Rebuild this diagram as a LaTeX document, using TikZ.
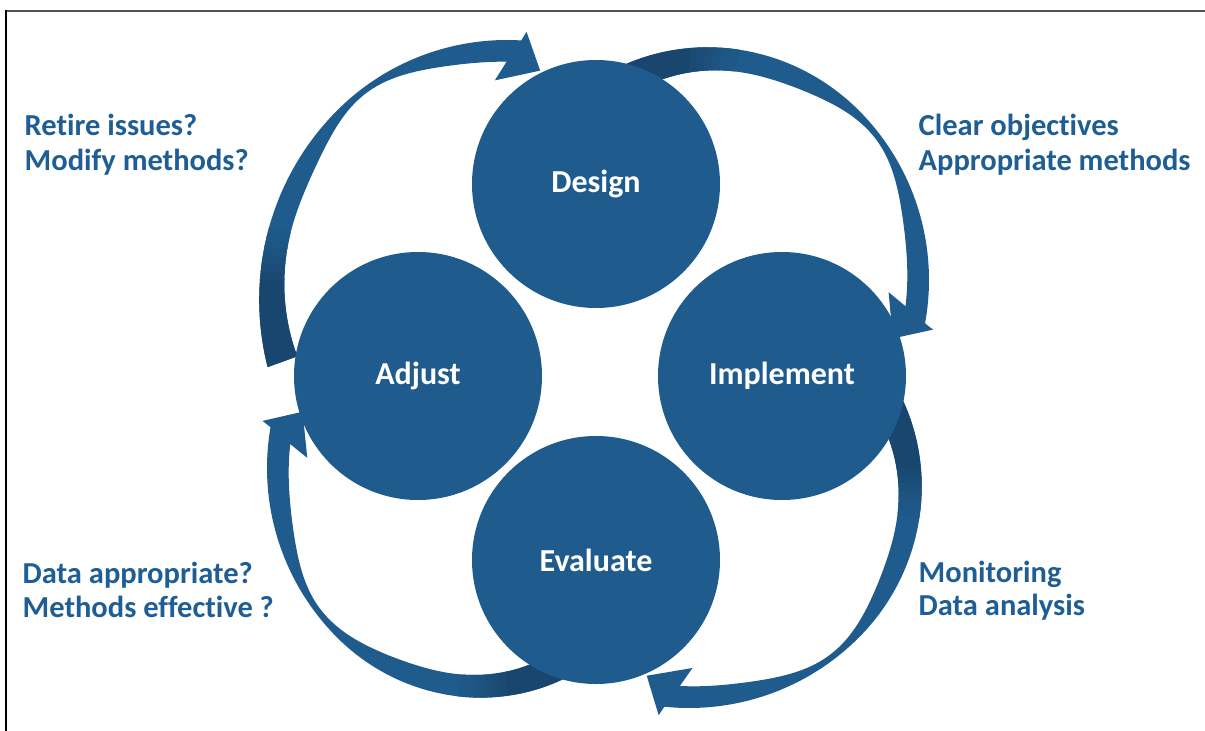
\documentclass[tikz,border=0pt]{standalone}
\usepackage{fontspec}
\setmainfont{Carlito}[Ligatures={NoCommon}]
\usetikzlibrary{calc}

\definecolor{discblue}{RGB}{31,91,140}
\definecolor{tailblue}{RGB}{25,70,110}
\definecolor{noteblue}{RGB}{31,94,148}

% outer radius of a loop band (bends in or out near the tail)
\pgfmathdeclarefunction{rout}{2}{\pgfmathparse{240-(#2)*min(#1,0)*min(#1,0)}}
% band width: wide tail, narrow twist, steady shaft
\pgfmathdeclarefunction{bandw}{1}{\pgfmathparse{22-16*exp(-((#1-8)/18.5)*((#1-8)/18.5))+0.006*min(#1+25,0)*min(#1+25,0)}}

% curved band arrow around the midpoint of two disc centres
% #1 from, #2 to, #3 outward direction, #4 tail bend, #5 head shift
\newcommand\loopband[5]{%
  \pgfmathsetmacro\headend{50.9+(#5)}%
  \pgfmathsetmacro\innerend{47.4+(#5)}%
  \begin{scope}[shift={($(#1)!0.5!(#2)$)}]
    \fill[discblue]
      plot[smooth,samples=70,domain=-65:\headend,variable=\t]
        ({rout(\t,#4)*cos(#3+\t)},{rout(\t,#4)*sin(#3+\t)})
      -- ({249*cos(#3+52+(#5))},{249*sin(#3+52+(#5))})
      -- ({212*cos(#3+56.5+(#5))},{212*sin(#3+56.5+(#5))})
      -- ({200*cos(#3+44+(#5))},{200*sin(#3+44+(#5))})
      -- plot[smooth,samples=70,domain=\innerend:-65,variable=\t]
        ({(rout(\t,#4)-bandw(\t))*cos(#3+\t)},{(rout(\t,#4)-bandw(\t))*sin(#3+\t)})
      -- cycle;
    \foreach \a/\b/\p in {-65/-44.6/100,-45/-42.6/85,-43/-40.6/70,-41/-38.6/55,-39/-36.6/40,-37/-34.6/25,-35/-32.6/12}{
      \fill[tailblue!\p!discblue]
        plot[smooth,samples=10,domain=\a:\b,variable=\t]
          ({rout(\t,#4)*cos(#3+\t)},{rout(\t,#4)*sin(#3+\t)})
        -- plot[smooth,samples=10,domain=\b:\a,variable=\t]
          ({(rout(\t,#4)-bandw(\t))*cos(#3+\t)},{(rout(\t,#4)-bandw(\t))*sin(#3+\t)})
        -- cycle;
    }
  \end{scope}}

\tikzset{
  disc/.style={circle, fill=discblue, minimum size=248pt, inner sep=0pt,
    text=white, font=\fontsize{32}{38}\selectfont\bfseries},
  note/.style={anchor=base west, inner sep=0pt, text=noteblue,
    font=\fontsize{30.5}{36}\selectfont\bfseries}
}

\begin{document}
\begin{tikzpicture}[x=1pt,y=-1pt]
  \useasboundingbox (0,0) rectangle (1205,731);

  % frame edges
  \draw[line width=2pt, black!68] (5,11) -- (1205,11);
  \draw[line width=2pt, black] (6,10) -- (6,731);

  % disc centres
  \coordinate (cdesign) at (596,184);
  \coordinate (cimplement) at (782,376);
  \coordinate (cevaluate) at (596,560);
  \coordinate (cadjust) at (418,376);

  % cycle arrows
  \loopband{cadjust}{cdesign}{225}{-0.0035}{-2.5}
  \loopband{cdesign}{cimplement}{315}{0.004}{4.5}
  \loopband{cimplement}{cevaluate}{45}{0.004}{0}
  \loopband{cevaluate}{cadjust}{135}{0.006}{3.9}

  % stages
  \node[disc] (design) at (cdesign) {Design};
  \node[disc] (implement) at (cimplement) {Implement};
  \node[disc] (evaluate) at (cevaluate) {Evaluate};
  \node[disc] (adjust) at (cadjust) {Adjust};

  % notes
  \node[note] (retire) at (24.5,135) {Retire issues?};
  \node[note] (modify) at (24.5,170) {Modify methods?};
  \node[note] (clear) at (918.5,135) {Clear objectives};
  \node[note] (approp) at (918.5,170) {Appropriate methods};
  \node[note] (dataok) at (22.5,583) {Data appropriate?};
  \node[note] (methok) at (22.5,617) {Methods effective ?};
  \node[note] (monitor) at (918.5,582) {Monitoring};
  \node[note] (analysis) at (918.5,615) {Data analysis};
\end{tikzpicture}
\end{document}
